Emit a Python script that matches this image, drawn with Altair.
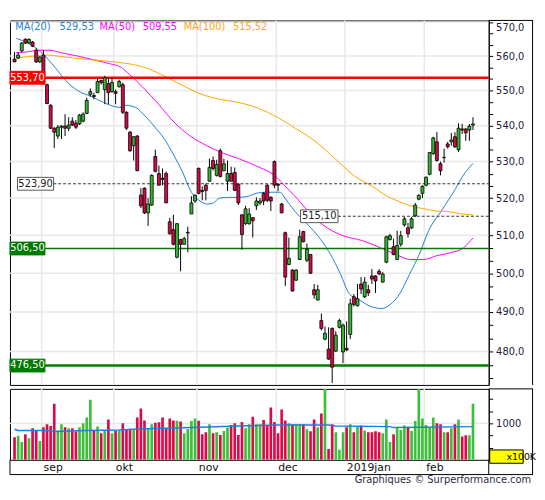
import altair as alt
import pandas as pd

# ---------------- data ----------------
opens = [559.1, 559.4, 561.5, 564.9, 563.8, 564.1, 561.7, 558.3, 560.3, 551.7,
         545.8, 539.3, 537.1, 539.6, 539.9, 539.3, 541.3, 540.7, 540.5, 541.3,
         543.5, 548.9, 548.6, 549.4, 552.9, 550.3, 552.0, 549.7, 549.7, 551.1,
         551.7, 543.8, 538.2, 534.4, 537.1, 520.8, 522.7, 516.0, 518.1, 531.4,
         526.7, 525.4, 526.7, 513.6, 511.5, 504.2, 508.9, 507.6, 510.6, 515.7,
         519.2, 528.1, 522.1, 523.5, 524.6, 530.3, 526.2, 533.0, 527.5, 524.6,
         526.7, 527.0, 523.8, 515.5, 513.1, 513.1, 514.7, 517.9, 518.7, 521.3,
         523.5, 520.2, 530.0, 523.8, 518.4, 510.7, 502.3, 500.8, 498.2, 503.6,
         511.0, 503.4, 504.9, 495.7, 493.1, 487.8, 483.1, 480.6, 485.8, 480.1,
         486.1, 479.9, 480.8, 484.3, 493.9, 491.6, 497.2, 493.9, 495.7, 499.3,
         499.3, 500.5, 497.7, 502.9, 508.9, 507.0, 503.6, 507.6, 512.8, 512.0,
         512.0, 515.2, 519.7, 521.3, 523.5, 526.5, 532.2, 535.5, 529.4, 531.1,
         534.9, 535.5, 536.9, 533.3, 539.1, 539.1, 538.8, 540.2]
highs = [561.2, 561.2, 564.1, 565.2, 565.2, 564.4, 562.3, 560.0, 561.7, 552.0,
         546.1, 539.6, 540.2, 540.2, 543.3, 542.4, 542.4, 541.6, 543.3, 543.8,
         548.0, 550.6, 549.4, 553.7, 553.1, 554.3, 553.7, 553.7, 550.3, 553.1,
         552.3, 544.1, 538.5, 537.1, 537.4, 522.7, 522.9, 520.0, 526.5, 533.3,
         528.9, 528.1, 527.3, 514.7, 515.5, 513.3, 508.9, 509.6, 512.3, 520.5,
         521.0, 528.4, 523.2, 524.0, 530.8, 531.4, 530.5, 533.6, 530.8, 530.3,
         528.6, 528.4, 524.0, 515.5, 517.9, 517.3, 514.9, 520.2, 520.0, 521.6,
         523.8, 520.5, 530.3, 524.0, 518.7, 511.0, 509.4, 501.1, 501.1, 511.5,
         511.2, 507.8, 504.9, 497.2, 497.0, 489.6, 486.3, 486.1, 486.1, 485.1,
         488.3, 487.1, 487.6, 493.4, 494.6, 497.2, 499.0, 499.0, 497.0, 501.1,
         499.5, 501.1, 500.3, 509.9, 510.4, 509.1, 511.2, 511.2, 514.9, 513.3,
         514.9, 518.7, 521.0, 523.5, 525.9, 532.7, 536.9, 538.2, 530.0, 533.6,
         535.5, 538.0, 538.2, 540.7, 540.5, 539.3, 540.5, 542.4]
lows = [558.3, 559.1, 561.2, 563.5, 563.5, 562.6, 558.0, 558.0, 551.7, 546.1,
        539.1, 533.8, 536.3, 536.3, 537.1, 538.5, 539.9, 539.1, 540.2, 541.0,
        543.3, 548.3, 547.5, 549.4, 551.7, 546.1, 546.1, 549.4, 546.1, 550.9,
        543.3, 538.8, 532.7, 530.3, 527.3, 517.3, 515.7, 512.5, 517.9, 527.0,
        523.5, 523.5, 518.7, 510.2, 507.3, 503.9, 500.5, 507.6, 505.5, 515.7,
        518.7, 521.0, 519.4, 519.4, 524.6, 527.5, 525.9, 525.6, 527.3, 521.9,
        524.6, 521.9, 518.1, 506.2, 512.8, 512.8, 509.4, 516.8, 518.1, 518.1,
        518.9, 516.5, 522.7, 521.9, 516.0, 496.7, 502.1, 495.2, 498.0, 503.4,
        508.1, 502.9, 499.8, 493.4, 492.9, 485.3, 482.8, 477.9, 472.2, 479.9,
        485.8, 477.1, 480.1, 483.1, 491.4, 491.4, 494.6, 493.6, 494.1, 497.2,
        494.9, 499.5, 497.5, 502.6, 508.6, 504.7, 503.6, 507.0, 512.3, 509.4,
        511.7, 514.9, 519.4, 520.0, 523.2, 526.2, 531.9, 530.0, 526.2, 529.7,
        533.6, 534.4, 533.8, 532.7, 537.7, 535.8, 535.8, 538.8]
closes = [558.3, 560.3, 563.8, 563.8, 564.9, 562.9, 558.3, 559.7, 552.3, 546.3,
          539.3, 538.2, 539.6, 539.9, 539.3, 540.2, 540.2, 539.6, 543.0, 543.3,
          547.2, 549.7, 548.3, 552.6, 552.3, 553.7, 549.4, 552.3, 549.2, 552.6,
          543.8, 539.3, 533.0, 536.9, 527.5, 517.9, 516.0, 518.4, 526.2, 527.3,
          523.5, 525.1, 518.7, 510.4, 507.6, 513.1, 507.6, 509.1, 510.8, 518.7,
          520.8, 521.3, 521.8, 522.1, 528.4, 528.1, 529.2, 525.9, 529.4, 526.7,
          524.6, 522.1, 518.7, 510.2, 517.1, 515.7, 513.9, 519.2, 519.2, 519.2,
          519.4, 519.2, 523.5, 523.5, 516.0, 499.0, 503.9, 495.4, 500.8, 509.6,
          508.3, 506.3, 500.0, 494.4, 495.7, 485.8, 484.6, 478.1, 476.1, 484.1,
          487.8, 486.6, 480.4, 492.1, 491.9, 493.4, 495.9, 497.7, 494.9, 498.5,
          498.0, 499.8, 499.8, 509.6, 509.9, 504.9, 507.3, 509.9, 514.4, 510.4,
          514.4, 518.1, 520.8, 523.2, 525.7, 532.5, 536.6, 530.3, 527.5, 531.2,
          534.1, 536.0, 534.1, 539.3, 538.8, 538.0, 539.9, 540.5]
volumes = [716, 743, 615, 777, 696, 899, 852, 635, 919, 980,
           946, 1406, 852, 980, 919, 899, 899, 832, 919, 1000,
           1122, 1487, 844, 933, 798, 852, 1081, 798, 844, 852,
           1000, 864, 864, 864, 1122, 1305, 1061, 899, 980, 1015,
           1021, 1122, 899, 1102, 1061, 1055, 1041, 798, 885, 1047,
           1102, 1055, 777, 818, 980, 798, 818, 763, 844, 913,
           966, 1000, 763, 1027, 899, 980, 1136, 980, 980, 1067,
           966, 1325, 1027, 798, 1284, 1061, 1000, 980, 980, 980,
           980, 880, 838, 1081, 919, 1203, 1710, 473, 980, 818,
           459, 818, 919, 980, 818, 933, 954, 852, 818, 818,
           838, 818, 798, 1081, 615, 777, 913, 864, 954, 913,
           844, 1047, 1710, 1102, 966, 919, 1122, 1000, 980, 818,
           818, 899, 980, 1081, 731, 757, 757, 1406]

ma20_idx = [0.5, 6, 8.7, 11.3, 14, 17.5, 21.2, 24.7, 27.4, 29.5, 30.8, 33.5, 36.2, 38.9,
            41.5, 44.2, 46.6, 48.7, 51.4, 53.3, 54.9, 56.8, 59.4, 62.1, 64.8, 66.9, 69.6,
            73.6, 74.9, 77.6, 81.3, 84.8, 87.5, 90.2, 92.8, 95.5, 98.7, 101.7, 104.1, 106.7,
            109.4, 112.1, 114.7, 118.2, 122.2, 124.1, 127]
ma20_val = [565.2, 562.3, 559.7, 556.6, 553.1, 550.0, 548.3, 546.6, 545.5, 545.2, 545.8, 545.2,
            542.7, 539.6, 536.3, 531.6, 527.0, 522.1, 519.2, 518.4, 518.6, 520.0, 520.2, 520.2,
            520.5, 521.3, 521.6, 521.6, 520.0, 516.5, 512.8, 508.9, 505.0, 500.0, 494.6, 493.1,
            491.4, 490.9, 491.9, 494.7, 499.7, 504.9, 511.2, 516.5, 522.6, 525.9, 529.5]
ma50_idx = [0.4, 3.3, 6.8, 9.5, 13.2, 17.5, 22, 26.6, 29.2, 31.9, 35.4, 39.9, 44.2, 48.7,
            53.3, 57.6, 62.1, 67.4, 72, 75.5, 78.9, 81.3, 85.4, 91, 96.3, 101.4, 105.7,
            109.7, 113.4, 116.9, 120.9, 124.4, 127]
ma50_val = [560.9, 561.2, 561.7, 561.7, 560.9, 560.0, 558.9, 557.7, 556.9, 554.6, 551.1, 546.1,
            541.0, 537.1, 534.4, 532.4, 530.8, 528.6, 526.2, 522.7, 519.2, 516.5, 512.8, 509.9,
            508.6, 506.7, 504.9, 503.6, 503.6, 504.6, 505.4, 506.7, 509.3]
ma100_idx = [0.4, 5.2, 8.7, 14, 19.3, 24.7, 30, 35.4, 40.7, 46.1, 51.4, 56.8, 62.1, 67.4,
             72.8, 78.1, 83.5, 88.8, 94.2, 99.5, 102.7, 106.2, 109.7, 113.4, 116.9, 120.4,
             124.1, 127]
ma100_val = [559.4, 560.0, 560.3, 559.7, 559.1, 558.6, 558.0, 556.9, 554.6, 551.7, 549.1, 547.5,
             546.6, 545.0, 542.4, 539.1, 535.5, 530.8, 526.0, 523.0, 520.8, 519.2, 517.9, 517.1,
             516.5, 516.3, 515.7, 515.5]
volma_idx = [0, 1, 9, 11, 20, 29, 34, 49, 62, 67, 73, 87, 89, 104, 105, 113, 127]
volma_val = [879, 852, 852, 832, 852, 864, 885, 913, 946, 954, 966, 966, 946, 933, 913, 919, 933]

months = ["sep", "okt", "nov", "dec", "2019jan", "feb"]
month_start = [7.5, 27.5, 50.5, 72.5, 91.5, 113.5]

price_major = [480, 490, 500, 510, 520, 530, 540, 550, 560, 570]
vol_ticks = [500, 750, 1000, 1250, 1500]

level_vals = [553.70, 523.90, 515.10, 506.50, 476.50]
level_labels = ["553,70", "523,90", "515,10", "506,50", "476,50"]

legend_names = ["MA(20)", "MA(50)", "MA(100)"]
legend_values = ["529,53", "509,55", "515,52"]

# ---------------- styling ----------------
FONT = "DejaVu Sans"
RED, GREEN = "#d60a46", "#33b833"
VRED, VGREEN = "#dc0a48", "#3cc03c"
BLUE, MAG, ORA = "#1f7fd8", "#ff00ff", "#ffa500"
GRID = "#e8e8e8"
W, HP, HV = 486, 370, 72

cdf = pd.DataFrame({"idx": list(range(len(opens))), "open": opens, "high": highs,
                    "low": lows, "close": closes, "vol": volumes})
mdf = pd.DataFrame({"m": months, "start": month_start})
madf = pd.concat([
    pd.DataFrame({"idx": ma20_idx, "val": ma20_val, "s": "MA20"}),
    pd.DataFrame({"idx": ma50_idx, "val": ma50_val, "s": "MA50"}),
    pd.DataFrame({"idx": ma100_idx, "val": ma100_val, "s": "MA100"}),
])
vmadf = pd.DataFrame({"idx": volma_idx, "val": volma_val})
one = pd.DataFrame({"k": [0]})

xscale = alt.Scale(domain=[0.1, 130], nice=False, zero=False)
pscale = alt.Scale(type="log", domain=[471.7, 570.5], nice=False)
vscale = alt.Scale(domain=[250, 1710], nice=False, zero=False)

minor = []
for m in [470] + price_major[:-1]:
    minor += [round(m + 10 / 3, 3), round(m + 20 / 3, 3)]
ptick_values = sorted(price_major + minor)

AX = dict(orient="right", tickSize=4, tickColor="black", domainColor="black", labelFont=FONT,
          labelFontSize=10, labelColor="#1c1c3a", labelPadding=3, title=None,
          grid=False, labelOverlap=False, zindex=2)
paxis = alt.Axis(values=ptick_values, labelFlush=3,
                 labelExpr="abs(datum.value - round(datum.value/10)*10) < 0.01 ? replace(format(datum.value, '.1f'), '.', ',') : ''",
                 **AX)
vaxis = alt.Axis(values=vol_ticks, labelExpr="datum.value == 1000 ? '1000' : ''", **AX)

X = alt.X("idx:Q", scale=xscale, axis=None)

def py(field):
    return alt.Y(field, type="quantitative", scale=pscale, axis=paxis)

def vy(field):
    return alt.Y(field, type="quantitative", scale=vscale, axis=vaxis)

# ---------------- price panel ----------------
hgrid = alt.Chart(pd.DataFrame({"p": price_major})).mark_rule(color=GRID, strokeWidth=1.5).encode(
    y=py("p"))
vgrid = alt.Chart(mdf).mark_rule(color=GRID, strokeWidth=1.5).encode(
    x=alt.X("start:Q", scale=xscale, axis=None))
malines = alt.Chart(madf).mark_line(strokeWidth=1, clip=True, interpolate="monotone").encode(
    x=X, y=py("val"),
    color=alt.Color("s:N", scale=alt.Scale(domain=["MA20", "MA50", "MA100"], range=[BLUE, MAG, ORA]),
                    legend=None))

def lvl(i):
    return alt.Chart(pd.DataFrame({"v": [level_vals[i]], "t": [level_labels[i]]}))

r553 = lvl(0).mark_rule(color="#ff0000", strokeWidth=2.5).encode(y=py("v"))
r524 = lvl(1).mark_rule(color="#333333", strokeWidth=1, strokeDash=[3, 2]).encode(
    x=alt.value(44), x2=alt.value(W), y=py("v"))
r515 = lvl(2).mark_rule(color="#333333", strokeWidth=1, strokeDash=[3, 2]).encode(
    x=alt.value(333), x2=alt.value(W), y=py("v"))
r506 = lvl(3).mark_rule(color="#007a00", strokeWidth=1.3).encode(y=py("v"))
r476 = lvl(4).mark_rule(color="#007a00", strokeWidth=2.5).encode(y=py("v"))

wicks = alt.Chart(cdf).mark_rule(color="black", strokeWidth=1, clip=True).encode(
    x=X, y=py("low"), y2="high")
bodies = alt.Chart(cdf).mark_bar(size=3, stroke="black", strokeWidth=0.8, clip=True).encode(
    x=X, y=py("open"), y2="close",
    color=alt.condition("datum.close >= datum.open", alt.value(GREEN), alt.value(RED)))

def label_box(i, x0, x1, fill, stroke, tcolor):
    rect = lvl(i).mark_rect(fill=fill, stroke=stroke, strokeWidth=1, yOffset=-6.5, y2Offset=6.5).encode(
        x=alt.value(x0), x2=alt.value(x1), y=py("v"), y2="v")
    txt = lvl(i).mark_text(color=tcolor, fontSize=10, font=FONT, align="center", baseline="middle").encode(
        x=alt.value((x0 + x1) / 2), y=py("v"), text="t:N")
    return [rect, txt]

labels = (label_box(0, 0, 35.5, "#ff0000", "#ff0000", "white")
          + label_box(1, 7.7, 44.3, "white", "#555555", "#222222")
          + label_box(2, 295, 333, "white", "#555555", "#222222")
          + label_box(3, 0, 35.5, "#007a00", "#007a00", "white")
          + label_box(4, 0, 35.5, "#007a00", "#007a00", "white"))

def txt(t, x, y, color, size=10, align="left", baseline="middle"):
    return alt.Chart(one).mark_text(
        text=t, color=color, fontSize=size, font=FONT, align=align, baseline=baseline).encode(
        x=alt.value(x), y=alt.value(y))

legend = [
    txt(legend_names[0], 5.3, 6.7, BLUE), txt(legend_values[0], 50.3, 6.7, BLUE),
    txt(legend_names[1], 91, 6.7, MAG), txt(legend_values[1], 134.7, 6.7, MAG),
    txt(legend_names[2], 176.3, 6.7, ORA), txt(legend_values[2], 226.3, 6.7, ORA),
]

def frame(x, x2, y, y2=None):
    enc = dict(x=alt.value(x), y=alt.value(y))
    if x2 is not None:
        enc["x2"] = alt.value(x2)
    if y2 is not None:
        enc["y2"] = alt.value(y2)
    return alt.Chart(one).mark_rule(color="black", strokeWidth=1).encode(**enc)

pframe = [frame(530.5, None, 0, HP), frame(W, 531, 0)]

price = alt.layer(hgrid, vgrid, malines, r553, r524, r515, r506, r476, wicks, bodies,
                  *labels, *legend, *pframe).properties(width=W, height=HP)

# ---------------- volume panel ----------------
vgrid_v = alt.Chart(mdf).mark_rule(color=GRID, strokeWidth=1.5).encode(
    x=alt.X("start:Q", scale=xscale, axis=None))
hgrid_v = alt.Chart(pd.DataFrame({"p": [1000]})).mark_rule(color=GRID, strokeWidth=1.5).encode(
    y=vy("p"))
vbars = alt.Chart(cdf).mark_bar(size=2.7, clip=True).encode(
    x=X, y=vy("vol"), y2=alt.datum(250),
    color=alt.condition("datum.close >= datum.open", alt.value(VGREEN), alt.value(VRED)))
vma = alt.Chart(vmadf).mark_line(color=BLUE, strokeWidth=1.5, clip=True).encode(
    x=X, y=vy("val"))
mlabels = alt.Chart(mdf).mark_text(align="left", baseline="middle", dx=2, fontSize=11, font=FONT,
                                   color="#111111").encode(
    x=alt.X("start:Q", scale=xscale, axis=None), y=alt.value(80), text="m:N")
kbox = alt.Chart(one).mark_rect(fill="#ffff00", stroke="black", strokeWidth=1).encode(
    x=alt.value(487), x2=alt.value(521), y=alt.value(62), y2=alt.value(75.5))
ktxt = txt("x100K", 504, 69, "black", size=9.5)
footer = txt("Graphiques \u00a9 Surperformance.com", 529, 95.5, "#2b2b45", size=10,
             align="right", baseline="alphabetic")
vframe = [frame(530.5, None, 0, 87), frame(W, 531, 0), frame(0, 531, 87),
          frame(0, None, HV, 87), frame(W, None, HV, 87)]

volume = alt.layer(vgrid_v, hgrid_v, vbars, vma, mlabels, kbox, ktxt, footer,
                   *vframe).properties(width=W, height=HV)

chart = alt.vconcat(price, volume, spacing=0).properties(
    padding={"top": 7, "left": 0, "right": 0, "bottom": 0},
    background="white",
).configure_view(stroke="black", strokeWidth=1)

chart.save("out.html", embed_options={"renderer": "svg", "actions": False})
